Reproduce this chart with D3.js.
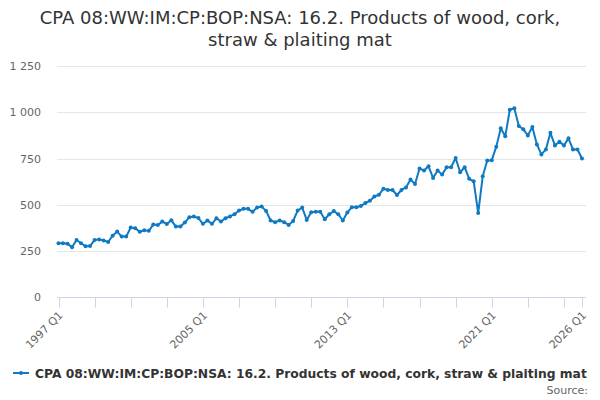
<!DOCTYPE html>
<html>
<head>
<meta charset="utf-8">
<script src="https://cdn.jsdelivr.net/npm/d3@7"></script>
<style>
  body { margin: 0; background: #fff; }
  svg { font-family: "DejaVu Sans", Verdana, sans-serif; }
</style>
</head>
<body>
<svg id="chart" width="600" height="400"></svg>
<script>
// quarterly values, 1997 Q1 .. 2026 Q1
var years = d3.range(1997, 2027)
var quarters = []
years.forEach(function (yr) {
    ['Q1', 'Q2', 'Q3', 'Q4'].forEach(function (q) { quarters.push(yr + ' ' + q) })
})
quarters = quarters.slice(0, 117)

var values = [
    292, 292, 290, 270, 310, 292, 276, 277,
    310, 313, 307, 299, 333, 355, 328, 328,
    377, 373, 354, 362, 359, 393, 391, 409,
    396, 417, 382, 382, 404, 433, 437, 428,
    397, 415, 397, 427, 409, 427, 437, 449,
    469, 478, 478, 462, 485, 491, 467, 415,
    406, 415, 406, 391, 413, 469, 485, 418,
    460, 462, 462, 422, 449, 466, 449, 415,
    458, 487, 487, 494, 509, 522, 545, 554,
    587, 580, 580, 553, 580, 594, 636, 612,
    696, 685, 708, 645, 685, 663, 703, 703,
    753, 676, 703, 640, 627, 455, 654, 739,
    741, 813, 913, 871, 1013, 1022, 926, 908,
    875, 920, 826, 772, 799, 889, 821, 841,
    821, 859, 799, 799, 750
]

var yTicks = [0, 250, 500, 750, 1000, 1250]
var xLabelIdx = [0, 32, 64, 96, 116]
var xTickIdx = d3.range(0, 113, 8).concat([116])

var titleLines = ['CPA 08:WW:IM:CP:BOP:NSA: 16.2. Products of wood, cork,', 'straw & plaiting mat']
var seriesName = 'CPA 08:WW:IM:CP:BOP:NSA: 16.2. Products of wood, cork, straw & plaiting mat'
var lineColor = '#0f7ac3'

var svg = d3.select('#chart')
var plotLeft = 58.5, plotRight = 582, plotTop = 66, plotBottom = 297.3

var x = d3.scalePoint().domain(quarters).range([plotLeft, plotRight])
var y = d3.scaleLinear().domain([0, 1250]).range([plotBottom, plotTop])

// title
svg.append('g').selectAll('text').data(titleLines).enter()
    .append('text')
    .attr('x', 300).attr('y', function (d, i) { return 24 + i * 22 })
    .attr('text-anchor', 'middle')
    .attr('font-size', '18px').attr('fill', '#333333')
    .text(function (d) { return d })

// grid
var fmt = function (v) { return d3.format(',')(v).replace(/,/g, ' ') }
svg.append('g').selectAll('line').data(yTicks.filter(function (v) { return v > 0 })).enter()
    .append('line')
    .attr('x1', 57).attr('x2', 586)
    .attr('y1', function (d) { return Math.round(y(d)) + 0.5 })
    .attr('y2', function (d) { return Math.round(y(d)) + 0.5 })
    .attr('stroke', '#e6e6e6').attr('stroke-width', 1)

svg.append('g').selectAll('text').data(yTicks).enter()
    .append('text')
    .attr('x', 41).attr('y', function (d) { return y(d) + 4 })
    .attr('text-anchor', 'end')
    .attr('font-size', '11px').attr('fill', '#666666')
    .text(fmt)

// x axis
svg.append('line')
    .attr('x1', 57).attr('x2', 586).attr('y1', 297.5).attr('y2', 297.5)
    .attr('stroke', '#ccd6eb')

svg.append('g').selectAll('line').data(xTickIdx).enter()
    .append('line')
    .attr('x1', function (d) { return Math.round(x(quarters[d])) + 0.5 })
    .attr('x2', function (d) { return Math.round(x(quarters[d])) + 0.5 })
    .attr('y1', 297.5).attr('y2', 307.5)
    .attr('stroke', '#ccd6eb')

svg.append('g').selectAll('text').data(xLabelIdx).enter()
    .append('text')
    .attr('transform', function (d) { return 'translate(' + (x(quarters[d]) + 5) + ',316) rotate(-45)' })
    .attr('text-anchor', 'end')
    .attr('font-size', '11px').attr('fill', '#666666')
    .text(function (d) { return quarters[d] })

// series
var line = d3.line()
    .x(function (d, i) { return x(quarters[i]) })
    .y(function (d) { return y(d) })

svg.append('path').datum(values)
    .attr('d', line)
    .attr('fill', 'none').attr('stroke', lineColor)
    .attr('stroke-width', 2).attr('stroke-linejoin', 'round')

svg.append('g').selectAll('circle').data(values).enter()
    .append('circle')
    .attr('cx', function (d, i) { return x(quarters[i]) })
    .attr('cy', function (d) { return y(d) })
    .attr('r', 2)
    .attr('fill', lineColor)

// legend
var lg = svg.append('g').attr('transform', 'translate(0,373)')
lg.append('line').attr('x1', 13).attr('x2', 29).attr('y1', 0).attr('y2', 0)
    .attr('stroke', lineColor).attr('stroke-width', 2)
lg.append('circle').attr('cx', 21).attr('cy', 0).attr('r', 2).attr('fill', lineColor)
lg.append('text').attr('x', 35).attr('y', 4.5)
    .attr('font-size', '12.3px').attr('font-weight', 'bold').attr('fill', '#333333')
    .text(seriesName)

svg.append('text')
    .attr('x', 588).attr('y', 394)
    .attr('text-anchor', 'end')
    .attr('font-size', '11px').attr('fill', '#666666')
    .text('Source:')
</script>
</body>
</html>
